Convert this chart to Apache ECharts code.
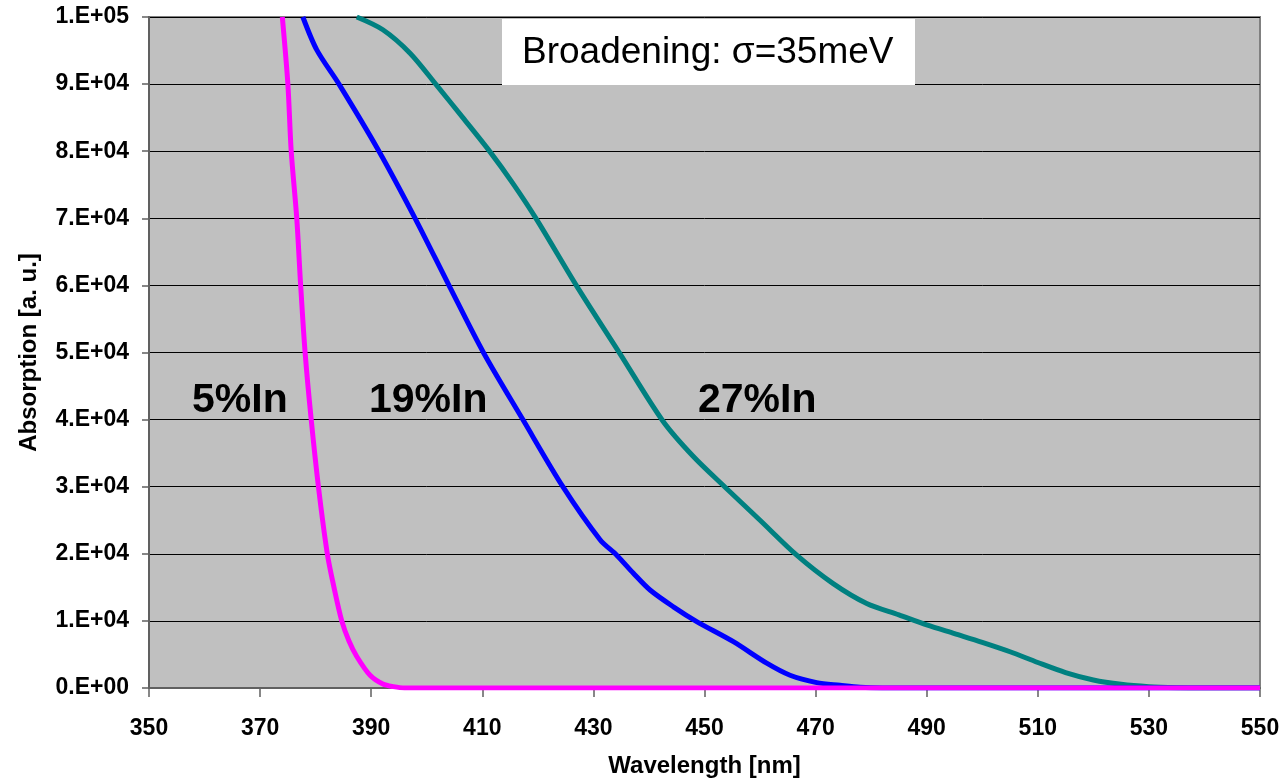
<!DOCTYPE html>
<html>
<head>
<meta charset="utf-8">
<script src="https://cdn.jsdelivr.net/npm/echarts@6/dist/echarts.min.js"></script>
<style>
html,body{margin:0;padding:0;background:#fff;}
#chart{width:1285px;height:784px;}
</style>
</head>
<body>
<div id="chart"></div>
<script>
// Wavelength [nm], Absorption [a.u.]
const in5 = [
  [374.0,100000],[375.0,90000],[375.6,80000],[376.6,70000],[377.3,60000],
  [378.1,50000],[379.2,40000],[380.5,30000],[382.1,20000],[383.3,15000],
  [384.7,10000],[386.0,7000],[387.4,4700],[389.8,1900],[392.1,600],
  [394.0,200],[396.0,0],[450.0,0],[550.0,0]
];
const in19 = [
  [377.7,100000],[380.2,95100],[384.2,90000],[391.4,80000],[397.9,70000],
  [404.0,60000],[410.2,50000],[417.3,40000],[424.5,30000],[431.2,22100],
  [434.2,19800],[437.2,17100],[440.2,14600],[444.4,12100],[448.6,9900],
  [455.2,6900],[461.2,3700],[465.4,1900],[470.2,800],[474.4,400],[478.0,100],
  [482.0,0],[550.0,0]
];
const in27 = [
  [387.4,100000],[392.1,98100],[397.0,94600],[401.8,89800],[406.5,85000],
  [411.4,79900],[415.5,75200],[419.8,69800],[427.0,59900],[434.8,49800],
  [442.5,39800],[448.0,34500],[454.0,29700],[460.0,25000],[466.6,19800],
  [473.1,15600],[479.2,12600],[485.0,10900],[490.0,9400],[495.0,8100],
  [500.0,6800],[505.0,5400],[510.0,3800],[515.0,2300],[520.0,1200],
  [525.0,550],[530.0,200],[535.0,50],[540.0,0],[550.0,0]
];
const seriesNames = ['27%In', '19%In', '5%In'];
const xTicks = [350, 370, 390, 410, 430, 450, 470, 490, 510, 530, 550];
const annotationText = 'Broadening: σ=35meV';

function sci(v) {
  if (v === 0) return '0.E+00';
  const e = Math.floor(Math.log10(v) + 1e-9);
  const m = Math.round(v / Math.pow(10, e));
  return m + '.E+' + (e < 10 ? '0' + e : e);
}

const chart = echarts.init(document.getElementById('chart'));
const font = '"Liberation Sans", Arial, sans-serif';
chart.setOption({
  animation: false,
  backgroundColor: '#ffffff',
  grid: {
    left: 149, right: 25, top: 17, bottom: 96,
    show: true, backgroundColor: '#C0C0C0', borderColor: '#808080', borderWidth: 2
  },
  xAxis: {
    type: 'value', min: 350, max: 550, interval: 20,
    name: 'Wavelength [nm]', nameLocation: 'middle', nameGap: 66,
    nameTextStyle: { fontFamily: font, fontWeight: 'bold', fontSize: 24, color: '#000' },
    axisLine: { show: true, lineStyle: { color: '#606060', width: 2 } },
    axisTick: { show: true, length: 9, lineStyle: { color: '#606060', width: 1.5 } },
    axisLabel: { fontFamily: font, fontWeight: 'bold', fontSize: 23, color: '#000', margin: 29,
      formatter: v => xTicks.indexOf(v) >= 0 ? String(v) : '' },
    splitLine: { show: false }
  },
  yAxis: {
    type: 'value', min: 0, max: 100000, interval: 10000,
    name: 'Absorption [a. u.]', nameLocation: 'middle', nameGap: 108,
    nameTextStyle: { fontFamily: font, fontWeight: 'bold', fontSize: 24, color: '#000' },
    axisLine: { show: true, lineStyle: { color: '#606060', width: 2 } },
    axisTick: { show: true, length: 7, lineStyle: { color: '#606060', width: 1.5 } },
    axisLabel: { fontFamily: font, fontWeight: 'bold', fontSize: 23, color: '#000', margin: 20,
      formatter: sci },
    splitLine: { show: true, lineStyle: { color: '#000', width: 1 } }
  },
  series: [
    { name: seriesNames[0], type: 'line', data: in27, showSymbol: false, smooth: 0.3,
      lineStyle: { color: '#008080', width: 5 }, clip: true, z: 2 },
    { name: seriesNames[1], type: 'line', data: in19, showSymbol: false, smooth: 0.3,
      lineStyle: { color: '#0000FF', width: 5 }, clip: true, z: 3 },
    { name: seriesNames[2], type: 'line', data: in5, showSymbol: false, smooth: 0.3,
      lineStyle: { color: '#FF00FF', width: 5 }, clip: true, z: 4 }
  ],
  graphic: [
    { type: 'rect', shape: { x: 502, y: 19, width: 413, height: 66 }, style: { fill: '#ffffff' }, z: 10 },
    { type: 'text', x: 522, y: 53, style: { text: annotationText, fontFamily: font, fontSize: 37,
      fill: '#000', verticalAlign: 'middle' }, z: 11 },
    { type: 'text', x: 192, y: 401, style: { text: seriesNames[2], fontFamily: font, fontWeight: 'bold',
      fontSize: 41, fill: '#000', verticalAlign: 'middle' }, z: 11 },
    { type: 'text', x: 369, y: 401, style: { text: seriesNames[1], fontFamily: font, fontWeight: 'bold',
      fontSize: 41, fill: '#000', verticalAlign: 'middle' }, z: 11 },
    { type: 'text', x: 698, y: 401, style: { text: seriesNames[0], fontFamily: font, fontWeight: 'bold',
      fontSize: 41, fill: '#000', verticalAlign: 'middle' }, z: 11 }
  ]
});
</script>
</body>
</html>
